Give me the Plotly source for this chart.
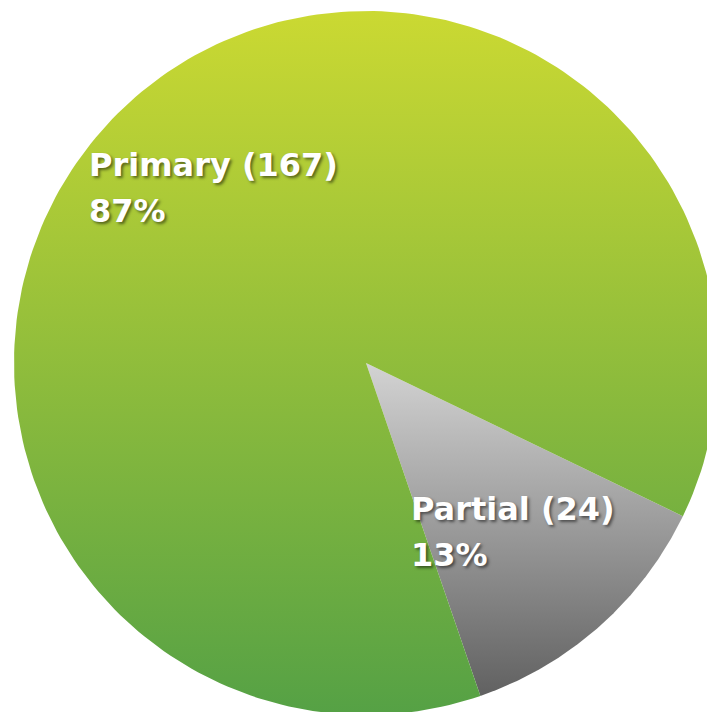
import numpy as np
import plotly.graph_objs as go

labels = ["Partial", "Primary"]
counts = [24, 167]
top_colors = ["#d3d3d3", "#cbd932"]
bottom_colors = ["#616161", "#55a145"]

start_angle = 115.8  # degrees, clockwise from 12 o'clock

total = sum(counts)
fracs = [c / total for c in counts]
percents = [f"{round(f * 100)}%" for f in fracs]

traces = []
angle = start_angle
for lab, frac, top, bot in zip(labels, fracs, top_colors, bottom_colors):
    span = frac * 360
    th = np.radians(np.linspace(angle, angle + span, 240))
    xs = np.concatenate([[0], np.sin(th), [0]])
    ys = np.concatenate([[0], np.cos(th), [0]])
    traces.append(go.Scatter(
        x=xs, y=ys, mode="lines", fill="toself",
        line={"width": 0},
        fillgradient={"type": "vertical", "colorscale": [[0, bot], [1, top]]},
        name=lab, hoverinfo="skip", showlegend=False,
    ))
    angle += span

# page body has an 8px margin, so shift everything up/left by 8
off = 8
R = 352.0
cx, cy = 366.0 - off, 363.0 - off
W, H = 715, 712

label_pos = {"Primary": (88, 145), "Partial": (410, 489)}
line_gap = 46

font = {"family": "DejaVu Sans", "size": 32, "weight": "bold", "color": "white",
        "shadow": "2px 2px 3px rgba(0,0,0,0.5)"}

annotations = []
for lab, cnt, pct in zip(labels, counts, percents):
    px_, py_ = label_pos[lab]
    for i, txt in enumerate([f"{lab} ({cnt})", pct]):
        annotations.append({
            "x": (px_ - off - cx) / R, "y": (cy - (py_ - off + i * line_gap)) / R,
            "xref": "x", "yref": "y",
            "xanchor": "left", "yanchor": "top", "align": "left",
            "showarrow": False, "borderpad": 0,
            "text": txt, "font": font,
        })

fig = go.Figure(traces).update_layout({
    "width": W, "height": H,
    "margin": {"t": 0, "b": 0, "l": 0, "r": 0},
    "paper_bgcolor": "white", "plot_bgcolor": "white",
    "xaxis": {"range": [-cx / R, (W - cx) / R], "visible": False, "fixedrange": True},
    "yaxis": {"range": [-(H - cy) / R, cy / R], "visible": False, "fixedrange": True},
    "annotations": annotations,
})

fig.write_html("out.html")
